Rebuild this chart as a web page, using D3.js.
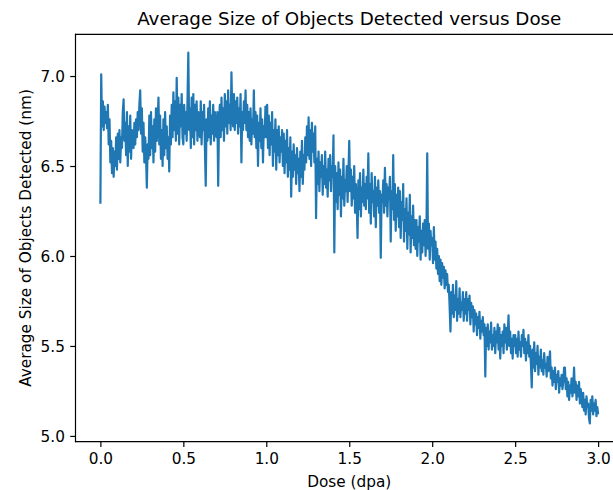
<!DOCTYPE html>
<html>
<head>
<meta charset="utf-8">
<script src="https://cdn.jsdelivr.net/npm/d3@7"></script>
<style>
  body { margin: 0; background: #fff; }
  svg { display: block; font-family: "DejaVu Sans", sans-serif; }
  .tick text { font-size: 15.3px; fill: #000; }
  .tick line { stroke: #000; stroke-width: 1.2px; }
</style>
</head>
<body>
<div id="chart"></div>
<script>
// dose sampling (dpa) : first point and spacing between readings
var doseStart = 0.0;
var doseStep = 0.005;

// average size (nm), one row per 0.1 dpa
var sizeRows = [
  [6.29, 7.01, 6.72, 6.86, 6.70, 6.83, 6.74, 6.80, 6.71, 6.84, 6.62, 6.76, 6.52, 6.64, 6.46, 6.60, 6.44, 6.58, 6.50, 6.66],
  [6.48, 6.68, 6.54, 6.70, 6.52, 6.66, 6.60, 6.80, 6.87, 6.64, 6.74, 6.56, 6.80, 6.50, 6.72, 6.58, 6.78, 6.54, 6.70, 6.62],
  [6.60, 6.74, 6.62, 6.76, 6.66, 6.80, 6.70, 6.84, 6.92, 6.68, 6.82, 6.58, 6.74, 6.52, 6.66, 6.56, 6.38, 6.62, 6.54, 6.78],
  [6.56, 6.80, 6.60, 6.72, 6.52, 6.76, 6.58, 6.82, 6.64, 6.74, 6.88, 6.62, 6.78, 6.54, 6.70, 6.50, 6.76, 6.56, 6.80, 6.60],
  [6.72, 6.54, 6.66, 6.47, 6.78, 6.62, 6.84, 6.66, 6.91, 6.70, 6.86, 6.64, 6.99, 6.68, 6.88, 6.62, 6.84, 6.72, 6.90, 6.66],
  [6.62, 6.84, 6.68, 6.80, 6.64, 6.86, 7.13, 6.70, 6.82, 6.60, 6.88, 6.66, 6.90, 6.62, 6.84, 6.70, 6.86, 6.64, 6.80, 6.72],
  [6.66, 6.86, 6.62, 6.80, 6.70, 6.84, 6.60, 6.39, 6.76, 6.64, 6.82, 6.66, 6.86, 6.62, 6.78, 6.68, 6.84, 6.64, 6.80, 6.70],
  [6.66, 6.80, 6.39, 6.74, 6.84, 6.66, 6.88, 6.70, 6.82, 6.64, 6.90, 6.72, 6.86, 6.68, 6.92, 6.74, 6.84, 6.70, 7.02, 6.78],
  [6.72, 6.90, 6.70, 6.86, 6.74, 6.88, 6.68, 6.82, 6.72, 6.90, 6.52, 6.80, 6.70, 6.86, 6.74, 6.92, 6.70, 6.84, 6.66, 6.80],
  [6.64, 6.82, 6.62, 6.76, 6.68, 6.92, 6.66, 6.80, 6.60, 6.78, 6.50, 6.74, 6.64, 6.82, 6.60, 6.76, 6.52, 6.72, 6.66, 6.83],
  [6.66, 6.84, 6.60, 6.78, 6.56, 6.74, 6.62, 6.80, 6.50, 6.70, 6.58, 6.76, 6.48, 6.70, 6.56, 6.72, 6.52, 6.66, 6.58, 6.70],
  [6.50, 6.68, 6.46, 6.64, 6.52, 6.70, 6.44, 6.60, 6.48, 6.66, 6.33, 6.58, 6.44, 6.62, 6.48, 6.56, 6.40, 6.60, 6.46, 6.54],
  [6.36, 6.58, 6.44, 6.64, 6.40, 6.56, 6.48, 6.66, 6.52, 6.72, 6.56, 6.77, 6.54, 6.70, 6.50, 6.74, 6.58, 6.68, 6.52, 6.72],
  [6.21, 6.54, 6.40, 6.58, 6.36, 6.52, 6.44, 6.56, 6.34, 6.50, 6.40, 6.58, 6.38, 6.48, 6.33, 6.54, 6.42, 6.56, 6.36, 6.50],
  [6.44, 6.67, 6.02, 6.50, 6.30, 6.46, 6.26, 6.52, 6.34, 6.48, 6.22, 6.44, 6.32, 6.54, 6.28, 6.42, 6.36, 6.50, 6.30, 6.46],
  [6.64, 6.36, 6.48, 6.28, 6.44, 6.32, 6.50, 6.24, 6.40, 6.30, 6.10, 6.42, 6.26, 6.46, 6.22, 6.38, 6.30, 6.48, 6.28, 6.40],
  [6.26, 6.44, 6.32, 6.57, 6.24, 6.40, 6.18, 6.46, 6.30, 6.36, 6.22, 6.44, 6.16, 6.38, 6.28, 6.42, 6.24, 6.36, 5.99, 6.34],
  [6.30, 6.42, 6.24, 6.49, 6.28, 6.40, 6.22, 6.38, 6.32, 6.44, 6.08, 6.36, 6.26, 6.56, 6.20, 6.40, 6.14, 6.34, 6.22, 6.38],
  [6.16, 6.36, 6.10, 6.30, 6.20, 6.40, 6.08, 6.26, 6.14, 6.32, 6.04, 6.24, 6.12, 6.34, 6.02, 6.22, 6.10, 6.28, 6.06, 6.20],
  [6.04, 6.20, 6.00, 6.16, 6.08, 6.22, 5.98, 6.14, 6.02, 6.18, 6.06, 6.20, 6.00, 6.12, 6.57, 6.04, 6.18, 5.98, 6.14, 6.06],
  [6.10, 5.96, 6.16, 5.98, 6.08, 5.93, 6.04, 5.90, 6.00, 5.86, 5.98, 5.84, 5.96, 5.88, 5.94, 5.82, 5.92, 5.84, 5.90, 5.80],
  [5.84, 5.72, 5.58, 5.80, 5.68, 5.84, 5.66, 5.78, 5.70, 5.86, 5.64, 5.76, 5.68, 5.82, 5.66, 5.74, 5.70, 5.80, 5.64, 5.76],
  [5.68, 5.80, 5.64, 5.76, 5.70, 5.78, 5.62, 5.74, 5.66, 5.72, 5.58, 5.70, 5.62, 5.68, 5.56, 5.66, 5.60, 5.69, 5.54, 5.64],
  [5.58, 5.66, 5.56, 5.62, 5.33, 5.60, 5.50, 5.62, 5.48, 5.58, 5.52, 5.63, 5.48, 5.56, 5.50, 5.60, 5.46, 5.58, 5.52, 5.62],
  [5.48, 5.60, 5.43, 5.56, 5.50, 5.58, 5.46, 5.62, 5.52, 5.60, 5.48, 5.56, 5.67, 5.50, 5.58, 5.46, 5.54, 5.43, 5.56, 5.50],
  [5.56, 5.46, 5.54, 5.44, 5.58, 5.48, 5.52, 5.44, 5.56, 5.50, 5.59, 5.46, 5.54, 5.42, 5.52, 5.46, 5.56, 5.44, 5.50, 5.40],
  [5.27, 5.48, 5.38, 5.52, 5.36, 5.46, 5.40, 5.50, 5.34, 5.44, 5.38, 5.48, 5.36, 5.42, 5.34, 5.46, 5.38, 5.40, 5.33, 5.44],
  [5.36, 5.40, 5.47, 5.32, 5.38, 5.28, 5.36, 5.30, 5.38, 5.26, 5.34, 5.30, 5.36, 5.24, 5.32, 5.28, 5.34, 5.26, 5.30, 5.38],
  [5.38, 5.26, 5.32, 5.22, 5.30, 5.20, 5.28, 5.24, 5.32, 5.22, 5.26, 5.38, 5.24, 5.30, 5.20, 5.28, 5.22, 5.30, 5.18, 5.26],
  [5.22, 5.16, 5.24, 5.14, 5.20, 5.12, 5.22, 5.16, 5.18, 5.10, 5.07, 5.20, 5.14, 5.22, 5.12, 5.18, 5.14, 5.20, 5.11, 5.16],
  [5.12]
];

var xTicks = [0.0, 0.5, 1.0, 1.5, 2.0, 2.5, 3.0];
var yTicks = [5.0, 5.5, 6.0, 6.5, 7.0];

var titleText = "Average Size of Objects Detected versus Dose";
var xLabel = "Dose (dpa)";
var yLabel = "Average Size of Objects Detected (nm)";

// flatten rows into points
var sizes = [].concat.apply([], sizeRows);
var data = sizes.map(function(v, i) {
  return { dose: doseStart + i * doseStep, size: v };
});

var svgWidth = 613, svgHeight = 490;
// axes box (right edge runs past the picture, like the reference)
var margin = { left: 75.5, top: 34.3, right: 623, bottom: 441.7 };

var svg = d3.select("#chart")
  .append("svg")
  .attr("width", svgWidth)
  .attr("height", svgHeight);

var x = d3.scaleLinear()
  .domain([-0.15, 3.15])
  .range([margin.left, margin.right]);

var y = d3.scaleLinear()
  .domain([4.968, 7.232])
  .range([margin.bottom, margin.top]);

// line
var line = d3.line()
  .x(d => x(d.dose))
  .y(d => y(d.size));

svg.append("path")
  .datum(data)
  .attr("fill", "none")
  .attr("stroke", "#1f77b4")
  .attr("stroke-width", 2.2)
  .attr("stroke-linejoin", "round")
  .attr("d", line);

// axes
var bottomAxis = d3.axisBottom(x)
  .tickValues(xTicks)
  .tickSize(5.3)
  .tickPadding(5.3)
  .tickFormat(d3.format(".1f"));

var leftAxis = d3.axisLeft(y)
  .tickValues(yTicks)
  .tickSize(5.3)
  .tickPadding(5.3)
  .tickFormat(d3.format(".1f"));

var gx = svg.append("g")
  .attr("transform", `translate(0, ${margin.bottom})`)
  .call(bottomAxis);
gx.select(".domain").remove();
gx.selectAll("text").attr("font-family", "DejaVu Sans").attr("dy", "0.76em");

var gy = svg.append("g")
  .attr("transform", `translate(${margin.left}, 0)`)
  .call(leftAxis);
gy.select(".domain").remove();
gy.selectAll("text").attr("font-family", "DejaVu Sans").attr("dy", "0.36em");

// spines
var spine = svg.append("g")
  .attr("stroke", "#000")
  .attr("stroke-width", 1.2)
  .attr("stroke-linecap", "square")
  .attr("fill", "none");
spine.append("line")
  .attr("x1", margin.left).attr("x2", margin.left)
  .attr("y1", margin.top).attr("y2", margin.bottom);
spine.append("line")
  .attr("x1", margin.left).attr("x2", margin.right)
  .attr("y1", margin.top).attr("y2", margin.top);
spine.append("line")
  .attr("x1", margin.left).attr("x2", margin.right)
  .attr("y1", margin.bottom).attr("y2", margin.bottom);

// title and axis labels
svg.append("text")
  .attr("x", (margin.left + margin.right) / 2)
  .attr("y", 25)
  .attr("text-anchor", "middle")
  .attr("font-size", "18.3px")
  .attr("fill", "#000")
  .text(titleText);

svg.append("text")
  .attr("x", (margin.left + margin.right) / 2)
  .attr("y", 487)
  .attr("text-anchor", "middle")
  .attr("font-size", "15.3px")
  .attr("fill", "#000")
  .text(xLabel);

svg.append("text")
  .attr("transform", `translate(31, ${(margin.top + margin.bottom) / 2}) rotate(-90)`)
  .attr("text-anchor", "middle")
  .attr("font-size", "15.3px")
  .attr("fill", "#000")
  .text(yLabel);
</script>
</body>
</html>
